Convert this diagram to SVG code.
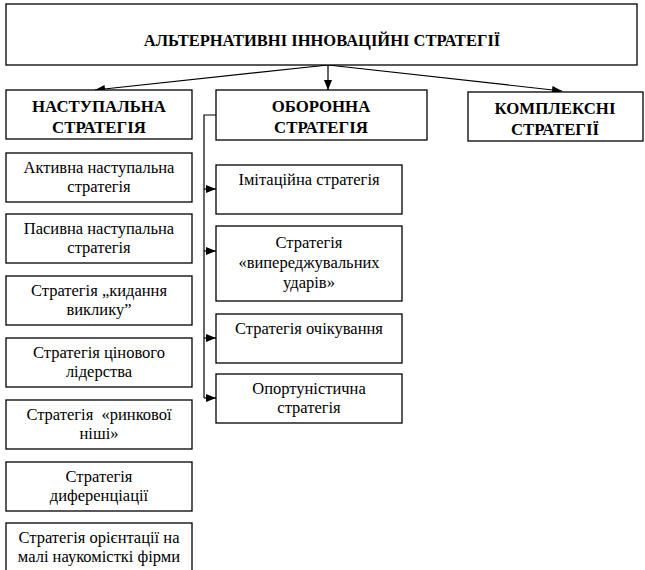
<svg xmlns="http://www.w3.org/2000/svg" width="645" height="570" viewBox="0 0 645 570">
<defs>
<marker id="ah" viewBox="0 0 10 8" refX="10" refY="4" markerWidth="10" markerHeight="8" markerUnits="userSpaceOnUse" orient="auto">
<path d="M0,0 L10,4 L0,8 Z" fill="#000"/>
</marker>
</defs>
<rect width="645" height="570" fill="#fff"/>
<g id="connectors" fill="none" stroke="#000" stroke-width="1.2">
<line x1="328" y1="65" x2="95" y2="90" marker-end="url(#ah)"/>
<line x1="328" y1="65" x2="328" y2="90" marker-end="url(#ah)"/>
<line x1="328" y1="65" x2="562" y2="91" marker-end="url(#ah)"/>
<polyline points="216,115 204,115 204,398"/>
<line x1="204" y1="189" x2="216" y2="189" marker-end="url(#ah)"/>
<line x1="204" y1="251" x2="216" y2="251" marker-end="url(#ah)"/>
<line x1="204" y1="338" x2="216" y2="338" marker-end="url(#ah)"/>
<line x1="204" y1="398" x2="216" y2="398" marker-end="url(#ah)"/>
</g>
<g id="root"><rect x="6" y="4" width="631" height="61" fill="#fff" stroke="#000" stroke-width="1.3"/><text font-family="Liberation Serif" font-weight="bold" font-size="16.5" text-anchor="middle" x="322" y="46">АЛЬТЕРНАТИВНІ ІННОВАЦІЙНІ СТРАТЕГІЇ</text></g>
<g id="offensive"><rect x="6" y="90" width="186" height="49" fill="#fff" stroke="#000" stroke-width="1.3"/><text font-family="Liberation Serif" font-weight="bold" font-size="16.8" text-anchor="middle" x="99" y="112">НАСТУПАЛЬНА</text><text font-family="Liberation Serif" font-weight="bold" font-size="16.8" text-anchor="middle" x="99" y="133">СТРАТЕГІЯ</text></g>
<g id="defensive"><rect x="216" y="90" width="211" height="50" fill="#fff" stroke="#000" stroke-width="1.3"/><text font-family="Liberation Serif" font-weight="bold" font-size="16.8" text-anchor="middle" x="321" y="112">ОБОРОННА</text><text font-family="Liberation Serif" font-weight="bold" font-size="16.8" text-anchor="middle" x="321" y="133">СТРАТЕГІЯ</text></g>
<g id="complex"><rect x="468" y="92" width="175" height="49" fill="#fff" stroke="#000" stroke-width="1.3"/><text font-family="Liberation Serif" font-weight="bold" font-size="16.8" text-anchor="middle" x="555" y="114">КОМПЛЕКСНІ</text><text font-family="Liberation Serif" font-weight="bold" font-size="16.8" text-anchor="middle" x="555" y="135">СТРАТЕГІЇ</text></g>
<g id="o1"><rect x="6" y="153" width="186" height="49" fill="#fff" stroke="#000" stroke-width="1.3"/><text font-family="Liberation Serif" font-size="16.5" text-anchor="middle" x="99" y="173">Активна наступальна</text><text font-family="Liberation Serif" font-size="16.5" text-anchor="middle" x="99" y="192">стратегія</text></g>
<g id="o2"><rect x="6" y="214" width="186" height="49" fill="#fff" stroke="#000" stroke-width="1.3"/><text font-family="Liberation Serif" font-size="16.5" text-anchor="middle" x="99" y="234">Пасивна наступальна</text><text font-family="Liberation Serif" font-size="16.5" text-anchor="middle" x="99" y="253">стратегія</text></g>
<g id="o3"><rect x="6" y="276" width="186" height="49" fill="#fff" stroke="#000" stroke-width="1.3"/><text font-family="Liberation Serif" font-size="16.5" text-anchor="middle" x="99" y="296">Стратегія „кидання</text><text font-family="Liberation Serif" font-size="16.5" text-anchor="middle" x="99" y="315">виклику”</text></g>
<g id="o4"><rect x="6" y="338" width="186" height="49" fill="#fff" stroke="#000" stroke-width="1.3"/><text font-family="Liberation Serif" font-size="16.5" text-anchor="middle" x="99" y="358">Стратегія цінового</text><text font-family="Liberation Serif" font-size="16.5" text-anchor="middle" x="99" y="377">лідерства</text></g>
<g id="o5"><rect x="6" y="400" width="186" height="49" fill="#fff" stroke="#000" stroke-width="1.3"/><text font-family="Liberation Serif" font-size="16.5" text-anchor="middle" x="99" y="420" xml:space="preserve">Стратегія  «ринкової</text><text font-family="Liberation Serif" font-size="16.5" text-anchor="middle" x="99" y="439">ніші»</text></g>
<g id="o6"><rect x="6" y="462" width="186" height="49" fill="#fff" stroke="#000" stroke-width="1.3"/><text font-family="Liberation Serif" font-size="16.5" text-anchor="middle" x="99" y="482">Стратегія</text><text font-family="Liberation Serif" font-size="16.5" text-anchor="middle" x="99" y="501">диференціації</text></g>
<g id="o7"><rect x="6" y="523" width="186" height="50" fill="#fff" stroke="#000" stroke-width="1.3"/><text font-family="Liberation Serif" font-size="16.5" text-anchor="middle" x="99" y="543">Стратегія орієнтації на</text><text font-family="Liberation Serif" font-size="16.5" text-anchor="middle" x="99" y="562">малі наукомісткі фірми</text></g>
<g id="d1"><rect x="216" y="165" width="186" height="49" fill="#fff" stroke="#000" stroke-width="1.3"/><text font-family="Liberation Serif" font-size="16.5" text-anchor="middle" x="309" y="185">Імітаційна стратегія</text></g>
<g id="d2"><rect x="216" y="226" width="186" height="75" fill="#fff" stroke="#000" stroke-width="1.3"/><text font-family="Liberation Serif" font-size="16.5" text-anchor="middle" x="309" y="248">Стратегія</text><text font-family="Liberation Serif" font-size="16.5" text-anchor="middle" x="309" y="268">«випереджувальних</text><text font-family="Liberation Serif" font-size="16.5" text-anchor="middle" x="309" y="288">ударів»</text></g>
<g id="d3"><rect x="216" y="314" width="186" height="49" fill="#fff" stroke="#000" stroke-width="1.3"/><text font-family="Liberation Serif" font-size="16.5" text-anchor="middle" x="309" y="334">Стратегія очікування</text></g>
<g id="d4"><rect x="216" y="374" width="186" height="49" fill="#fff" stroke="#000" stroke-width="1.3"/><text font-family="Liberation Serif" font-size="16.5" text-anchor="middle" x="309" y="394">Опортуністична</text><text font-family="Liberation Serif" font-size="16.5" text-anchor="middle" x="309" y="413">стратегія</text></g>
</svg>
